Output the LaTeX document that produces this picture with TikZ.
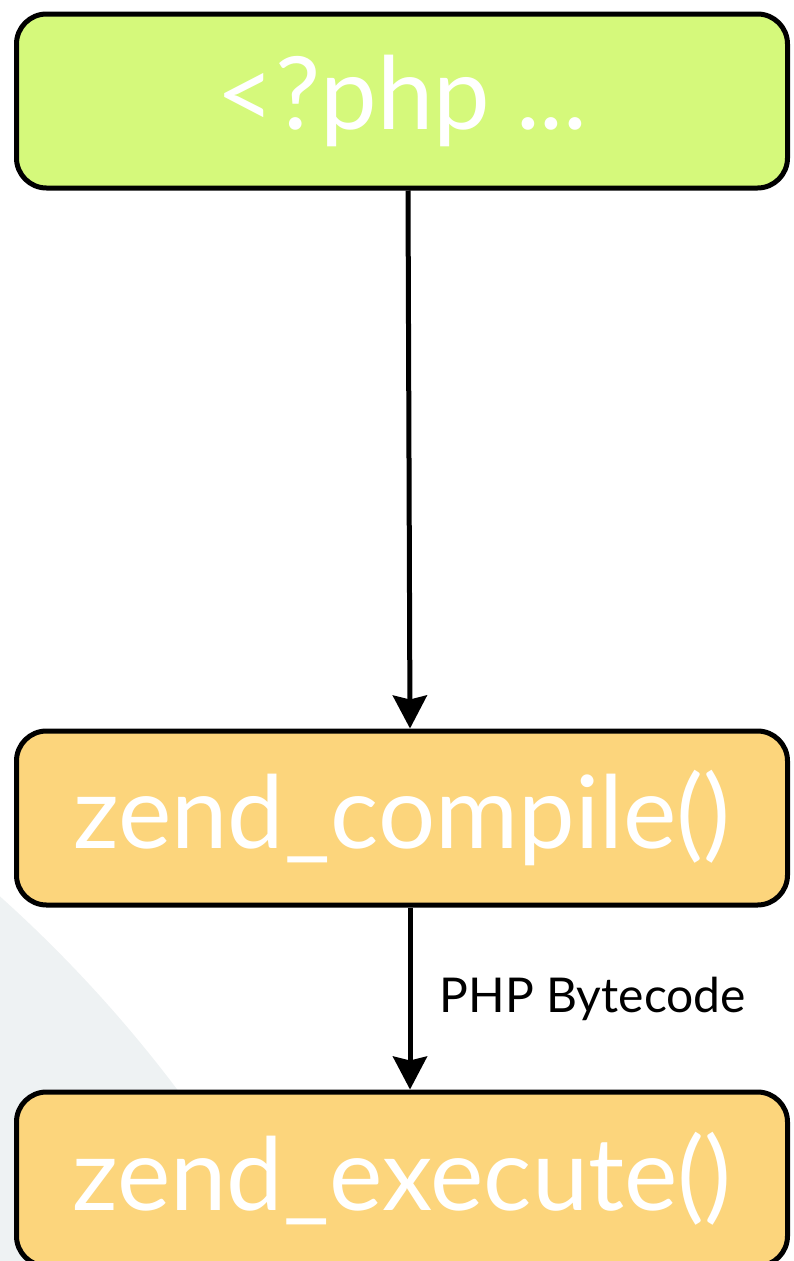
\documentclass[tikz,border=0pt]{standalone}
\usepackage{fontspec}
\setmainfont{Lato}
\usepackage{xcolor}
\usepackage{tikz}
\usetikzlibrary{positioning,arrows.meta}
\definecolor{zendLime}{HTML}{D5F97B}
\definecolor{zendAmber}{HTML}{FCD57C}
\definecolor{zendMist}{HTML}{EEF2F3}
\tikzset{
  zendbox/.style={draw=black,line width=5pt,rounded corners=30pt,
    minimum width=771pt,minimum height=174pt,text=white,
    font=\fontsize{101}{106}\selectfont},
  zendarrow/.style={-{Stealth[length=33pt,width=34pt,inset=4pt]},line width=5pt,draw=black},
  zendlabel/.style={font=\fontsize{48}{52}\selectfont,text=black}
}
\begin{document}
\begin{tikzpicture}[x=1pt,y=-1pt]
    \useasboundingbox (0,0) rectangle (793,1261);
    \clip (0,0) rectangle (793,1261);
    % faint background arc
    \fill[zendMist] (-900,1900) circle[radius=1348pt];
    \node[zendbox,fill=zendLime] (source) at (402,101) {<?php ...};
    \node[zendbox,fill=zendAmber,below=538pt of source] (compile) {zend\_compile()};
    \node[zendbox,fill=zendAmber,below=182pt of compile] (execute) {zend\_execute()};
    \draw[zendarrow] ([xshift=6pt]source.south) -- ([xshift=8pt]compile.north);
    \draw[zendarrow] ([xshift=8pt]compile.south) -- ([xshift=8pt]execute.north)
      node[zendlabel,midway,right=24pt]{PHP Bytecode};
  \end{tikzpicture}
\end{document}
